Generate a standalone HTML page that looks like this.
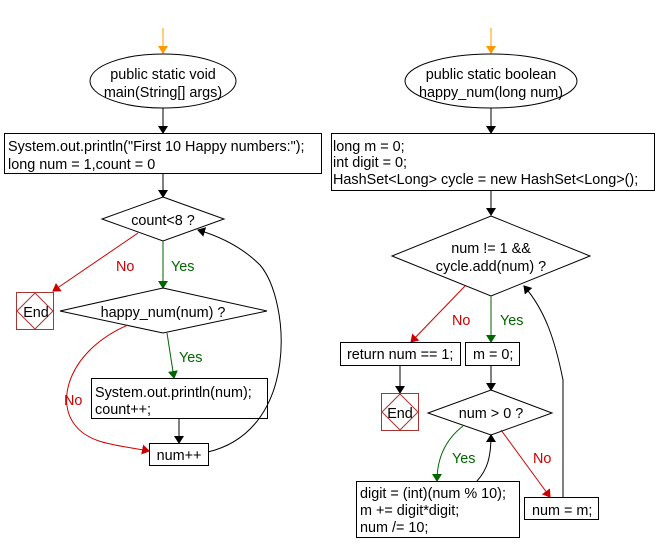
<!DOCTYPE html>
<html><head><style>body{margin:0;background:#fff}svg{display:block}text{font-family:"Liberation Sans",Arial,sans-serif;font-size:14.4px;fill:#000}</style></head><body>
<svg width="658" height="553" viewBox="0 0 658 553" xmlns="http://www.w3.org/2000/svg">
<defs>
<marker id="ab" markerWidth="8" markerHeight="10" refX="7" refY="5" orient="auto" markerUnits="userSpaceOnUse"><path d="M0,0L8,5L0,10z" fill="#000"/></marker>
<marker id="ar" markerWidth="8" markerHeight="10" refX="7" refY="5" orient="auto" markerUnits="userSpaceOnUse"><path d="M0,0L8,5L0,10z" fill="#c00"/></marker>
<marker id="ag" markerWidth="8" markerHeight="10" refX="7" refY="5" orient="auto" markerUnits="userSpaceOnUse"><path d="M0,0L8,5L0,10z" fill="#060"/></marker>
<marker id="ao" markerWidth="8" markerHeight="10" refX="7" refY="5" orient="auto" markerUnits="userSpaceOnUse"><path d="M0,0L8,5L0,10z" fill="#f90"/></marker>
</defs>
<g fill="none" stroke-width="1">
<line x1="163" y1="28" x2="163" y2="53" stroke="#f90" marker-end="url(#ao)"/>
<ellipse cx="163" cy="81" rx="73" ry="27" stroke="#000" fill="#fff"/>
<line x1="163" y1="108" x2="163" y2="133" stroke="#000" marker-end="url(#ab)"/>
<rect x="4.5" y="133.5" width="317" height="40" stroke="#000"/>
<line x1="163" y1="174" x2="163" y2="197" stroke="#000" marker-end="url(#ab)"/>
<polygon points="163,197 224,219 163,241 102,219" stroke="#000"/>
<line x1="138" y1="233" x2="53" y2="291" stroke="#c00" marker-end="url(#ar)"/>
<rect x="16.5" y="292.5" width="37" height="37" stroke="#a33"/>
<polygon points="35,293 53,311 35,329 17,311" stroke="#a33"/>
<line x1="163" y1="241" x2="163" y2="288" stroke="#060" marker-end="url(#ag)"/>
<polygon points="163,288 267,311 163,333 60,311" stroke="#000"/>
<line x1="167" y1="333" x2="174" y2="378" stroke="#060" marker-end="url(#ag)"/>
<rect x="91.5" y="378.5" width="176" height="40" stroke="#000"/>
<line x1="179" y1="419" x2="179" y2="443" stroke="#000" marker-end="url(#ab)"/>
<rect x="149.5" y="443.5" width="59" height="22" stroke="#000"/>
<path d="M128,325 C70,350 55,400 75,425 C90,445 120,445 149,451" stroke="#c00" marker-end="url(#ar)"/>
<path d="M208,452 C300,430 290,300 260,265 C240,245 215,235 198,230" stroke="#000" marker-end="url(#ab)"/>
<line x1="491" y1="28" x2="491" y2="53" stroke="#f90" marker-end="url(#ao)"/>
<ellipse cx="491" cy="81" rx="86" ry="27" stroke="#000"/>
<line x1="491" y1="108" x2="491" y2="133" stroke="#000" marker-end="url(#ab)"/>
<rect x="331.5" y="133.5" width="323" height="57" stroke="#000"/>
<line x1="491" y1="191" x2="491" y2="215" stroke="#000" marker-end="url(#ab)"/>
<polygon points="491,216 590,256 491,296 392,256" stroke="#000"/>
<line x1="465" y1="286" x2="411" y2="342" stroke="#c00" marker-end="url(#ar)"/>
<rect x="340.5" y="342.5" width="120" height="23" stroke="#000"/>
<line x1="400" y1="365" x2="400" y2="393" stroke="#000" marker-end="url(#ab)"/>
<rect x="381.5" y="393.5" width="37" height="37" stroke="#a33"/>
<polygon points="400,394 418,412 400,430 382,412" stroke="#a33"/>
<line x1="491" y1="296" x2="491" y2="342" stroke="#060" marker-end="url(#ag)"/>
<rect x="465.5" y="342.5" width="54" height="23" stroke="#000"/>
<line x1="491" y1="366" x2="491" y2="390" stroke="#000" marker-end="url(#ab)"/>
<polygon points="491,390 552,413 491,435 428,413" stroke="#000"/>
<path d="M463,426 C445,440 437,458 437,481" stroke="#060" marker-end="url(#ag)"/>
<rect x="356.5" y="481.5" width="163" height="56" stroke="#000"/>
<path d="M477,481 C487,470 491,458 491,435" stroke="#000" marker-end="url(#ab)"/>
<line x1="501" y1="430" x2="550" y2="497" stroke="#c00" marker-end="url(#ar)"/>
<rect x="524.5" y="497.5" width="74" height="22" stroke="#000"/>
<path d="M563,497 L563,380 C555,340 545,310 524,286" stroke="#000" marker-end="url(#ab)"/>
</g>
<g>
<text x="163" y="79" text-anchor="middle">public static void</text>
<text x="163" y="97" text-anchor="middle">main(String[] args)</text>
<text x="8" y="151">System.out.println("First 10 Happy numbers:");</text>
<text x="8" y="169">long num = 1,count = 0</text>
<text x="163" y="225" text-anchor="middle">count&lt;8 ?</text>
<text x="116" y="271" style="fill:#c00">No</text>
<text x="171" y="271" style="fill:#060">Yes</text>
<text x="36" y="317" text-anchor="middle">End</text>
<text x="163" y="317" text-anchor="middle">happy_num(num) ?</text>
<text x="179" y="362" style="fill:#060">Yes</text>
<text x="64" y="405" style="fill:#c00">No</text>
<text x="95" y="397">System.out.println(num);</text>
<text x="95" y="414">count++;</text>
<text x="179" y="460" text-anchor="middle">num++</text>
<text x="491" y="79" text-anchor="middle">public static boolean</text>
<text x="491" y="97" text-anchor="middle">happy_num(long num)</text>
<text x="333" y="151">long m = 0;</text>
<text x="333" y="167">int digit = 0;</text>
<text x="333" y="184">HashSet&lt;Long&gt; cycle = new HashSet&lt;Long&gt;();</text>
<text x="491" y="253" text-anchor="middle">num != 1 &amp;&amp;</text>
<text x="491" y="271" text-anchor="middle">cycle.add(num) ?</text>
<text x="452" y="325" style="fill:#c00">No</text>
<text x="500" y="325" style="fill:#060">Yes</text>
<text x="347" y="359">return num == 1;</text>
<text x="473" y="359">m = 0;</text>
<text x="400" y="418" text-anchor="middle">End</text>
<text x="491" y="418" text-anchor="middle">num &gt; 0 ?</text>
<text x="452" y="463" style="fill:#060">Yes</text>
<text x="533" y="463" style="fill:#c00">No</text>
<text x="360" y="498">digit = (int)(num % 10);</text>
<text x="360" y="515">m += digit*digit;</text>
<text x="360" y="532">num /= 10;</text>
<text x="532" y="515">num = m;</text>
</g>
</svg>
</body></html>
